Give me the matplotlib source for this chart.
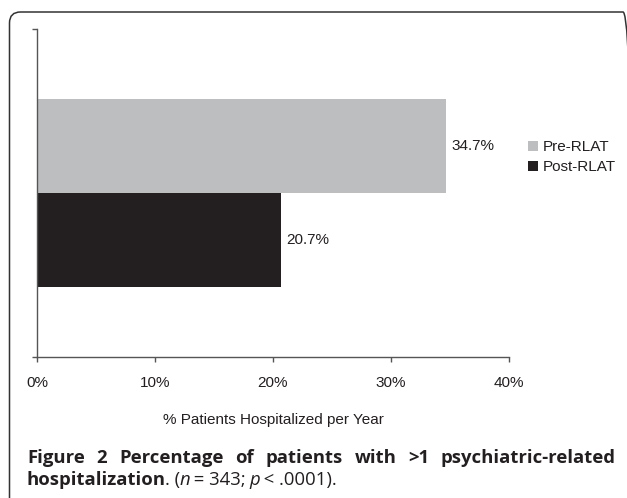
import matplotlib
matplotlib.use("Agg")
import matplotlib.pyplot as plt
from matplotlib.patches import FancyBboxPatch, Patch

# data
series = ["Pre-RLAT", "Post-RLAT"]
values = [34.7, 20.7]
value_labels = ["34.7%", "20.7%"]
bar_colors = ["#bdbec0", "#231f20"]
xticks = [0, 10, 20, 30, 40]
xtick_labels = ["0%", "10%", "20%", "30%", "40%"]
xlabel = "% Patients Hospitalized per Year"
caption_line1 = "Figure 2 Percentage of patients with >1 psychiatric-related"
caption_line2 = [("hospitalization", "bold", "normal"), (". (", "normal", "normal"),
                 ("n", "normal", "italic"), (" = 343; ", "normal", "normal"),
                 ("p", "normal", "italic"), (" < .0001).", "normal", "normal")]

W, H = 627, 498
DPI = 100
fig = plt.figure(figsize=(W / DPI, H / DPI), dpi=DPI)
fig.patch.set_facecolor("white")
TXT = "#231f20"

# rounded frame of the figure panel (in inches so the corner stays round)
frame = FancyBboxPatch((9.5 / DPI, -0.5), (634 - 9.5) / DPI, (H - 12) / DPI + 0.5,
                       boxstyle="round,pad=0,rounding_size=0.11",
                       transform=fig.dpi_scale_trans, fill=False,
                       edgecolor="#333333", linewidth=1.1)
fig.patches.append(frame)

ax = fig.add_axes([37 / W, 1 - 357 / H, (509 - 37) / W, (357 - 29) / H])

h = 0.288
ypos = [h / 2, -h / 2]
for y, v, c, lab, name in zip(ypos, values, bar_colors, value_labels, series):
    ax.barh(y, v, height=h, color=c, label=name)
    ax.annotate(lab, (v, y), xytext=(3.6, 0), textcoords="offset points",
                va="center", ha="left", fontsize=11, family="Liberation Sans",
                color=TXT)

ax.set_xlim(0, 40)
ax.set_ylim(-0.5, 0.5)
ax.set_xticks(xticks)
ax.set_xticklabels(xtick_labels, family="Liberation Sans", fontsize=11, color=TXT)
ax.set_yticks([-0.5, 0.5])
ax.set_yticklabels([])
ax.tick_params(axis="x", direction="out", length=3.5, width=1, pad=10, color="#555555")
ax.tick_params(axis="y", direction="out", length=3.5, width=1, color="#555555")
for s in ["top", "right"]:
    ax.spines[s].set_visible(False)
for s in ["left", "bottom"]:
    ax.spines[s].set_color("#555555")
    ax.spines[s].set_linewidth(1.0)
ax.set_xlabel(xlabel, family="Liberation Sans", fontsize=11, color=TXT, labelpad=17)

handles = [Patch(facecolor=c, edgecolor="none", label=n) for c, n in zip(bar_colors, series)]
fig.legend(handles=handles, loc="upper left", bbox_to_anchor=(528 / W, 1 - 140 / H),
           frameon=False, borderpad=0, borderaxespad=0,
           handlelength=0.65, handleheight=0.65, handletextpad=0.33,
           labelspacing=0.42, prop={"family": "Liberation Sans", "size": 11},
           labelcolor=TXT)

# caption, first line justified between the frame margins
renderer = fig.canvas.get_renderer()
cap_kw = dict(family="Open Sans", fontsize=13.3, color=TXT, va="baseline")
words = caption_line1.split(" ")
left_px, right_px = 27, 616
widths = []
for wd in words:
    t = fig.text(0, 0, wd, weight="bold", **cap_kw)
    widths.append(t.get_window_extent(renderer).width)
    t.remove()
gap = (right_px - left_px - sum(widths)) / (len(words) - 1)
x = left_px
for wd, wpx in zip(words, widths):
    fig.text(x / W, 1 - 463 / H, wd, weight="bold", **cap_kw)
    x += wpx + gap

x = left_px
for txt, wt, st in caption_line2:
    t = fig.text(x / W, 1 - 485 / H, txt, weight=wt, style=st, **cap_kw)
    x += t.get_window_extent(renderer).width - 1

fig.savefig("out.png", dpi=DPI)
